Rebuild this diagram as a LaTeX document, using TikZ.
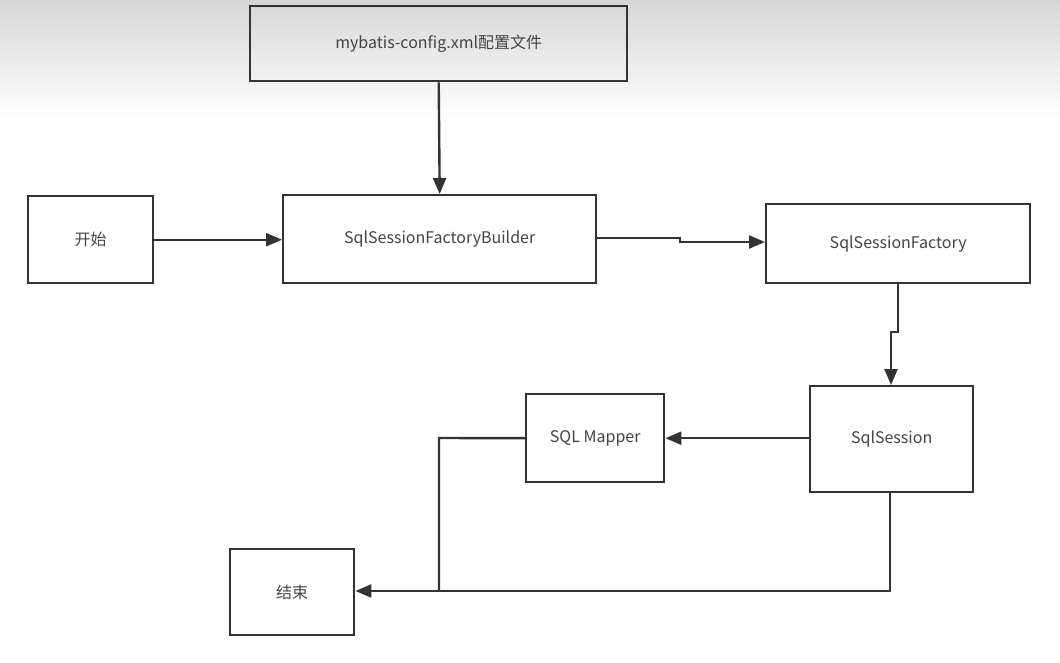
\documentclass[tikz,border=0pt]{standalone}
\usepackage{fontspec}
\setmainfont{Noto Sans CJK SC}
\usetikzlibrary{arrows.meta}
\definecolor{ln}{HTML}{333333}
\definecolor{tx}{HTML}{444444}
\tikzset{
  box/.style={draw=ln, line width=2.4pt, inner sep=0pt, anchor=north west, text=tx, font=\fontsize{16}{19}\selectfont},
  conn/.style={draw=ln, line width=2.4pt, -{Triangle[length=16pt,width=13pt]}},
  plain/.style={draw=ln, line width=2.4pt}
}
\begin{document}
\begin{tikzpicture}[x=1pt,y=-1pt]
\useasboundingbox (0,0) rectangle (1060,663);
\shade[top color=black!16, bottom color=white] (0,0) rectangle (1060,118);
% nodes
\node[box, minimum width=377pt, minimum height=75pt] (cfg) at (249,5) {mybatis-config.xml配置文件};
\node[box, minimum width=125pt, minimum height=87pt] (start) at (27,195) {开始};
\node[box, minimum width=313pt, minimum height=88pt] (bld) at (282,194) {SqlSessionFactoryBuilder};
\node[box, minimum width=264pt, minimum height=79pt] (fac) at (765,203) {SqlSessionFactory};
\node[box, minimum width=163pt, minimum height=106pt] (ses) at (809,385) {SqlSession};
\node[box, minimum width=138pt, minimum height=88pt] (map) at (525,393) {SQL Mapper};
\node[box, minimum width=124pt, minimum height=86pt] (end) at (229,548) {结束};
% connectors
\draw[conn] (cfg.south) -- (bld.north);
\draw[conn] (start.east) -- (bld.west |- start.east);
\coordinate (b1) at (680,238);
\coordinate (b2) at (680,242);
\draw[conn] (bld.east |- b1) -- (b1) -- (b2) -- (fac.west |- b2);
\coordinate (f1) at (898,332);
\coordinate (f2) at (891,332);
\draw[conn] (fac.south -| f1) -- (f1) -- (f2) -- (ses.north -| f2);
\draw[conn] (ses.west |- map.east) -- (map.east);
\coordinate (m1) at (439,438);
\coordinate (m2) at (439,591);
\draw[plain] (map.west) -- (m1) -- (m2);
\coordinate (s1) at (890,591);
\draw[conn] (ses.south -| s1) -- (s1) -- (end.east |- s1);
\end{tikzpicture}
\end{document}
